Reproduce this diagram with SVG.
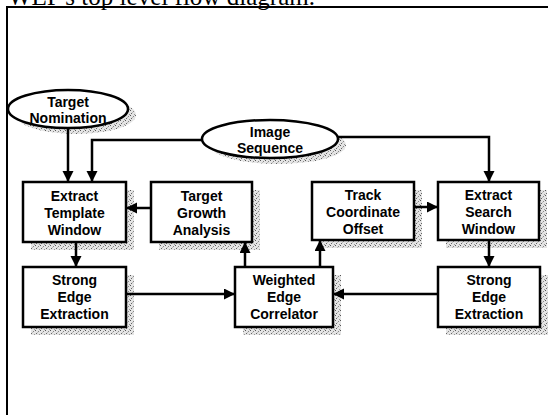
<svg xmlns="http://www.w3.org/2000/svg" width="548" height="415" viewBox="0 0 548 415">
<style>
.box{fill:#fff;stroke:#000;stroke-width:2.5}
.sh{fill:url(#stip);stroke:none}
.lbl{font-family:"Liberation Sans",Arial,sans-serif;font-weight:bold;font-size:14px;text-anchor:middle;fill:#000}
.cap{font-family:"Liberation Serif","Times New Roman",serif;font-size:25px;fill:#000}
.c{fill:none;stroke:#000;stroke-width:2.5}
</style>
<defs>
<pattern id="stip" width="5" height="5" patternUnits="userSpaceOnUse">
<rect width="5" height="5" fill="#e4e4e4"/>
<rect x="0" y="0" width="1" height="1" fill="#555"/>
<rect x="3" y="1" width="1" height="1" fill="#888"/>
<rect x="1" y="3" width="1" height="1" fill="#666"/>
<rect x="4" y="4" width="1" height="1" fill="#999"/>
<rect x="2" y="2" width="1" height="1" fill="#bbb"/>
</pattern>
<marker id="ah" markerUnits="userSpaceOnUse" markerWidth="12" markerHeight="12" refX="10" refY="5.5" orient="auto">
<path d="M0,0 L11,5.5 L0,11 Z" fill="#000"/>
</marker>
</defs>
<rect width="548" height="415" fill="#fff"/>
<text class="cap" x="8" y="5" textLength="307">WEP's top level flow diagram.</text>
<path d="M7,415 V7 H548" fill="none" stroke="#000" stroke-width="2"/>

<g id="target-nomination">
<ellipse class="sh" cx="76" cy="115" rx="60" ry="19"/>
<ellipse class="box" cx="68" cy="109" rx="60" ry="19"/>
<text class="lbl" x="68" y="107">Target</text>
<text class="lbl" x="68" y="123">Nomination</text>
</g>

<g id="image-sequence">
<ellipse class="sh" cx="278" cy="145" rx="68" ry="19"/>
<ellipse class="box" cx="270" cy="139" rx="68" ry="19"/>
<text class="lbl" x="270" y="137">Image</text>
<text class="lbl" x="270" y="153">Sequence</text>
</g>

<g id="extract-template-window">
<rect class="sh" x="31" y="190" width="103" height="60"/>
<rect class="box" x="23" y="182" width="103" height="60"/>
<text class="lbl" x="74.5" y="201">Extract</text>
<text class="lbl" x="74.5" y="218">Template</text>
<text class="lbl" x="74.5" y="235">Window</text>
</g>

<g id="target-growth-analysis">
<rect class="sh" x="159" y="190" width="101" height="60"/>
<rect class="box" x="151" y="182" width="101" height="60"/>
<text class="lbl" x="201.5" y="201">Target</text>
<text class="lbl" x="201.5" y="218">Growth</text>
<text class="lbl" x="201.5" y="235">Analysis</text>
</g>

<g id="track-coordinate-offset">
<rect class="sh" x="320" y="190" width="102" height="58"/>
<rect class="box" x="312" y="182" width="102" height="58"/>
<text class="lbl" x="363" y="200">Track</text>
<text class="lbl" x="363" y="217">Coordinate</text>
<text class="lbl" x="363" y="234">Offset</text>
</g>

<g id="extract-search-window">
<rect class="sh" x="446" y="190" width="101" height="58"/>
<rect class="box" x="438" y="182" width="101" height="58"/>
<text class="lbl" x="488.5" y="200">Extract</text>
<text class="lbl" x="488.5" y="217">Search</text>
<text class="lbl" x="488.5" y="234">Window</text>
</g>

<g id="strong-edge-extraction-left">
<rect class="sh" x="31" y="275" width="103" height="60"/>
<rect class="box" x="23" y="267" width="103" height="60"/>
<text class="lbl" x="74.5" y="285">Strong</text>
<text class="lbl" x="74.5" y="302">Edge</text>
<text class="lbl" x="74.5" y="319">Extraction</text>
</g>

<g id="weighted-edge-correlator">
<rect class="sh" x="243" y="275" width="98" height="60"/>
<rect class="box" x="235" y="267" width="98" height="60"/>
<text class="lbl" x="284" y="285">Weighted</text>
<text class="lbl" x="284" y="302">Edge</text>
<text class="lbl" x="284" y="319">Correlator</text>
</g>

<g id="strong-edge-extraction-right">
<rect class="sh" x="446" y="275" width="102" height="60"/>
<rect class="box" x="438" y="267" width="102" height="60"/>
<text class="lbl" x="489" y="285">Strong</text>
<text class="lbl" x="489" y="302">Edge</text>
<text class="lbl" x="489" y="319">Extraction</text>
</g>

<g id="connectors">
<path class="c" d="M68,128 V181" marker-end="url(#ah)"/>
<path class="c" d="M202,140 H92 V181" marker-end="url(#ah)"/>
<path class="c" d="M338,137 H489 V181" marker-end="url(#ah)"/>
<path class="c" d="M151,208 H127" marker-end="url(#ah)"/>
<path class="c" d="M414,207 H437" marker-end="url(#ah)"/>
<path class="c" d="M76,243 V266" marker-end="url(#ah)"/>
<path class="c" d="M489,241 V266" marker-end="url(#ah)"/>
<path class="c" d="M126,294 H234" marker-end="url(#ah)"/>
<path class="c" d="M438,294 H334" marker-end="url(#ah)"/>
<path class="c" d="M245,266 V243" marker-end="url(#ah)"/>
<path class="c" d="M320,266 V241" marker-end="url(#ah)"/>
</g>
</svg>
